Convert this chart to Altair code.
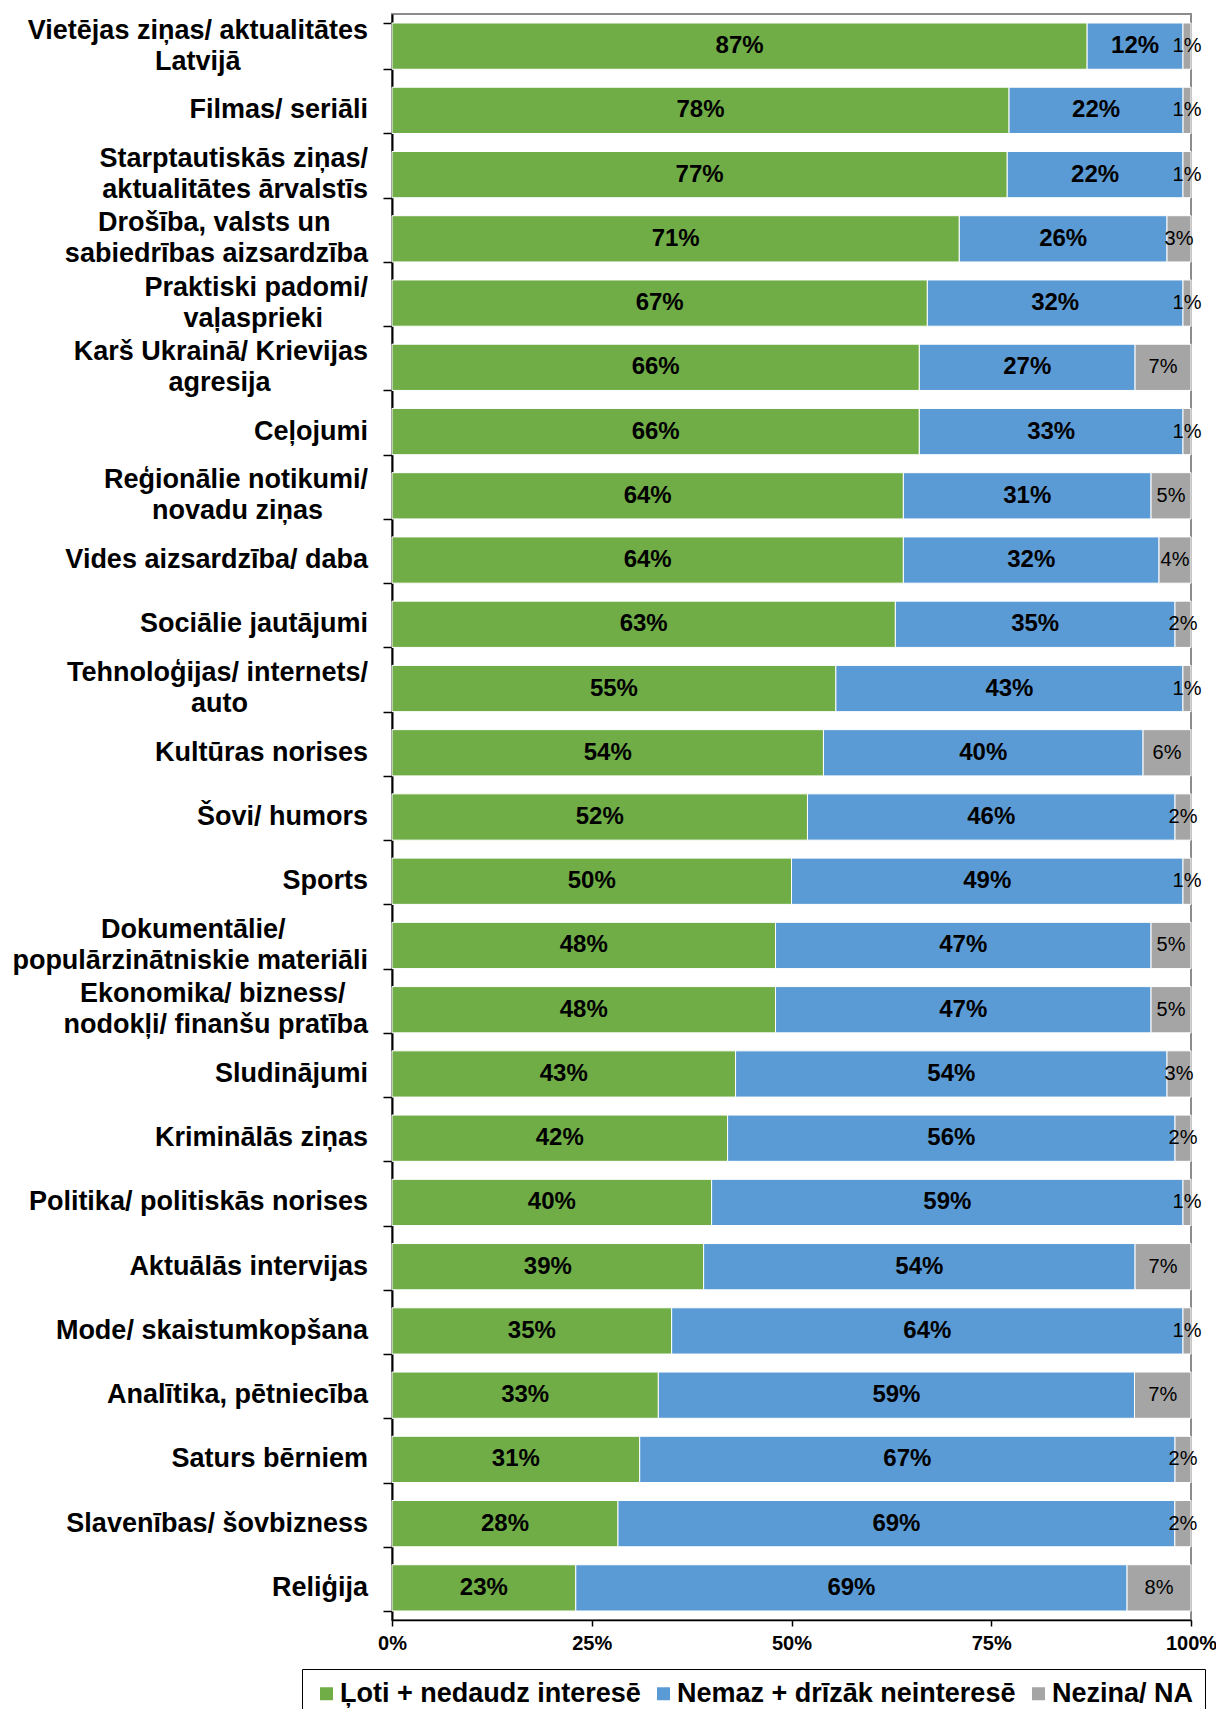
import unicodedata
import altair as alt
import pandas as pd

categories = [
    "Vietējas ziņas/ aktualitātes\nLatvijā",
    "Filmas/ seriāli",
    "Starptautiskās ziņas/\naktualitātes ārvalstīs",
    "Drošība, valsts un\nsabiedrības aizsardzība",
    "Praktiski padomi/\nvaļasprieki",
    "Karš Ukrainā/ Krievijas\nagresija",
    "Ceļojumi",
    "Reģionālie notikumi/\nnovadu ziņas",
    "Vides aizsardzība/ daba",
    "Sociālie jautājumi",
    "Tehnoloģijas/ internets/\nauto",
    "Kultūras norises",
    "Šovi/ humors",
    "Sports",
    "Dokumentālie/\npopulārzinātniskie materiāli",
    "Ekonomika/ bizness/\nnodokļi/ finanšu pratība",
    "Sludinājumi",
    "Kriminālās ziņas",
    "Politika/ politiskās norises",
    "Aktuālās intervijas",
    "Mode/ skaistumkopšana",
    "Analītika, pētniecība",
    "Saturs bērniem",
    "Slavenības/ šovbizness",
    "Reliģija",
]
green = [87, 78, 77, 71, 67, 66, 66, 64, 64, 63, 55, 54, 52, 50, 48, 48, 43, 42, 40, 39, 35, 33, 31, 28, 23]
blue = [12, 22, 22, 26, 32, 27, 33, 31, 32, 35, 43, 40, 46, 49, 47, 47, 54, 56, 59, 54, 64, 59, 67, 69, 69]
gray = [1, 1, 1, 3, 1, 7, 1, 5, 4, 2, 1, 6, 2, 1, 5, 5, 3, 2, 1, 7, 1, 7, 2, 2, 8]
series = ["Ļoti + nedaudz interesē", "Nemaz + drīzāk neinteresē", "Nezina/ NA"]
colors = ["#70AD47", "#5B9BD5", "#A5A5A5"]
x_ticks = [0, 0.25, 0.5, 0.75, 1]

FONT = "Liberation Sans, Arial, sans-serif"

# approximate Arial Bold advance widths (1/1000 em) used to centre wrapped lines
W = dict(zip("abcdefghijklmnopqrstuvwxyz",
             [556, 611, 556, 611, 556, 333, 611, 611, 278, 278, 556, 278, 889,
              611, 611, 611, 611, 389, 556, 333, 611, 556, 778, 556, 556, 500]))
W.update(dict(zip("ABCDEFGHIJKLMNOPQRSTUVWXYZ",
                  [722, 722, 722, 722, 667, 611, 778, 722, 278, 556, 722, 611, 833,
                   722, 778, 667, 778, 722, 667, 611, 722, 667, 944, 667, 667, 611])))
W.update({" ": 278, "/": 278, ",": 278, ".": 278, "+": 584, "%": 889})


def text_w(s):
    return sum(W.get(unicodedata.normalize("NFD", ch)[0], 556) for ch in s)


def center_lines(label):
    # pad shorter lines with no-break spaces (closed by a zero-width space so that
    # they survive trimming) so that the wrapped lines look centred
    lines = label.split("\n")
    if len(lines) == 1:
        return label
    ws = [text_w(l) for l in lines]
    m = max(ws)
    out = []
    for l, w in zip(lines, ws):
        n = round((m - w) / 2 / 278)
        out.append(l + ("\u00a0" * n + "\u200b" if n > 0 else ""))
    return "\n".join(out)


display = [center_lines(c) for c in categories]

rows = []
for i, cat in enumerate(display):
    for j, vals in enumerate([green, blue, gray]):
        rows.append({"category": cat, "series": series[j], "value": vals[i], "order": j})
df = pd.DataFrame(rows)
lab_df = pd.DataFrame({"category": display})

x_axis = alt.Axis(
    values=x_ticks, format=".0%", title=None, grid=False,
    labelFont=FONT, labelFontSize=20, labelFontWeight="bold", labelColor="black",
    labelPadding=7, labelFlush=False, tickSize=6, tickColor="black", tickWidth=1.5,
    domainColor="black", domainWidth=1.5,
)
x_scale = alt.Scale(domain=[0, 1], nice=False)

y_enc = alt.Y(
    "category:N", sort=display, title=None,
    scale=alt.Scale(paddingInner=0.28, paddingOuter=0.14),
    axis=alt.Axis(
        labels=False, tickSize=9, tickColor="black", tickWidth=1.5, tickBand="extent",
        domainColor="black", domainWidth=2,
    ),
)

base = alt.Chart(df).transform_stack(
    stack="value", groupby=["category"], as_=["x0", "x1"],
    sort=[alt.SortField("order", order="ascending")], offset="normalize",
).transform_calculate(
    mid="(datum.x0 + datum.x1) / 2", label="datum.value + '%'"
)

bars = base.mark_bar(stroke="white", strokeWidth=1).encode(
    x=alt.X("x0:Q", scale=x_scale, axis=x_axis),
    x2="x1:Q",
    y=y_enc,
    color=alt.Color(
        "series:N", scale=alt.Scale(domain=series, range=colors),
        legend=alt.Legend(
            orient="none", legendX=-90, legendY=1655, direction="horizontal",
            title=None, strokeColor="black", fillColor="white", padding=11,
            symbolType="square", symbolSize=169, symbolStrokeWidth=0, symbolOpacity=1,
            labelFont=FONT, labelFontSize=27, labelFontWeight="bold", labelColor="black",
            labelOffset=0, columnPadding=9, labelLimit=600,
        ),
    ),
    order=alt.Order("order:Q"),
)

bold_text = base.transform_filter("datum.order < 2").mark_text(
    font=FONT, fontSize=24, fontWeight="bold", color="black", baseline="middle", align="center"
).encode(
    x=alt.X("mid:Q", scale=x_scale, axis=x_axis),
    y=y_enc,
    text="label:N",
)

gray_text = base.transform_filter("datum.order == 2").mark_text(
    font=FONT, fontSize=20, fontWeight="normal", color="black", baseline="middle", align="center"
).encode(
    x=alt.X("mid:Q", scale=x_scale, axis=x_axis),
    y=y_enc,
    text="label:N",
)

label_style = dict(font=FONT, fontSize=27, fontWeight="bold", color="black",
                   baseline="middle", align="right", lineBreak="\n", lineHeight=31)

cat_single = alt.Chart(lab_df).transform_filter(
    "indexof(datum.category, '\\n') < 0"
).mark_text(**label_style).encode(
    x=alt.value(-24), y=y_enc, text="category:N",
)

cat_double = alt.Chart(lab_df).transform_filter(
    "indexof(datum.category, '\\n') >= 0"
).mark_text(dy=-15.5, **label_style).encode(
    x=alt.value(-24), y=y_enc, text="category:N",
)

chart = alt.layer(bars, bold_text, gray_text, cat_single, cat_double).properties(
    width=799, height=1606,
    autosize=alt.AutoSizeParams(type="none"),
    padding={"left": 384, "top": 6, "right": 25, "bottom": 89},
).configure_view(
    stroke="#8C8C8C", strokeWidth=2
)

chart.save("out.html", embed_options={"renderer": "svg", "actions": False})
